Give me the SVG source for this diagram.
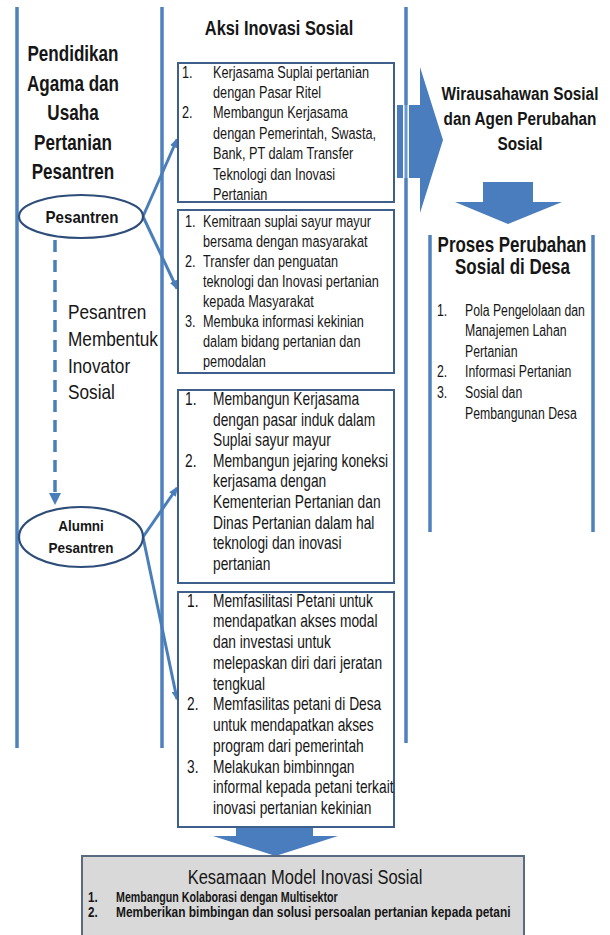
<svg xmlns="http://www.w3.org/2000/svg" width="610" height="935" viewBox="0 0 610 935">
<defs>
<style>
text{font-family:"Liberation Sans",Arial,sans-serif;fill:#161616}
.b1{font-size:16.5px}
.b2{font-size:17.5px}
.b3{font-size:16px}
.hd{font-weight:bold}
.mid{text-anchor:middle}
.frame{stroke:#4f81bd;stroke-width:3.5;fill:none}
.box{fill:#ffffff;stroke:#3e5f8c;stroke-width:2}
.ell{fill:#ffffff;stroke:#2e4d78;stroke-width:2.2}
.con{stroke:#4a7ebb;stroke-width:3;fill:none}
.blk{fill:#4a7dbd}
</style>
<marker id="ah" viewBox="0 0 10 8" refX="8" refY="4" markerWidth="10" markerHeight="8" markerUnits="userSpaceOnUse" orient="auto">
<path d="M0,0 L10,4 L0,8 z" fill="#4a7ebb"/>
</marker>
</defs>
<rect width="610" height="935" fill="#ffffff"/>

<g id="frame">
<line class="frame" x1="17" y1="7" x2="17" y2="748"/>
<line class="frame" x1="162" y1="7" x2="162" y2="748"/>
<line class="frame" x1="406" y1="7" x2="406" y2="743"/>
<line class="frame" x1="430" y1="235" x2="430" y2="532"/>
<line class="frame" x1="593" y1="235" x2="593" y2="532"/>
</g>

<g id="node-left-title">
<text class="hd mid" font-size="21.5" transform="matrix(0.795 0 0 1 73 61)">Pendidikan</text>
<text class="hd mid" font-size="21.5" transform="matrix(0.795 0 0 1 73 90.5)">Agama dan</text>
<text class="hd mid" font-size="21.5" transform="matrix(0.795 0 0 1 73 120)">Usaha</text>
<text class="hd mid" font-size="21.5" transform="matrix(0.795 0 0 1 73 149.5)">Pertanian</text>
<text class="hd mid" font-size="21.5" transform="matrix(0.795 0 0 1 73 179)">Pesantren</text>
</g>

<g id="node-aksi-title">
<text class="hd mid" font-size="21" transform="matrix(0.78 0 0 1 279 35)">Aksi Inovasi Sosial</text>
</g>

<g id="connectors">
<polygon class="blk" points="397,105 420,105 420,67 443,140 420,213 420,178 397,178"/>
<line x1="406" y1="105" x2="406" y2="178" stroke="#ffffff" stroke-width="6"/>
<line x1="406" y1="105" x2="406" y2="178" stroke="#6b98d0" stroke-width="3"/>
<polygon class="blk" points="483,182 533,182 533,202 562,202 508,224 455,202 483,202"/>
<polygon class="blk" points="236,827 313,827 313,836 338,836 275.5,856 213,836 236,836"/>
<line class="con" x1="143" y1="216.5" x2="177" y2="139.5" marker-end="url(#ah)"/>
<line class="con" x1="143" y1="216.5" x2="177" y2="288.5" marker-end="url(#ah)"/>
<line class="con" x1="143" y1="537" x2="177" y2="488" marker-end="url(#ah)"/>
<line class="con" x1="143" y1="537" x2="177" y2="699" marker-end="url(#ah)"/>
<line x1="55" y1="240" x2="55" y2="494" stroke="#4a7ebb" stroke-width="3.5" stroke-dasharray="12 8"/>
<polygon points="49,493 61,493 55,505" fill="#4a7ebb"/>
</g>

<g id="node-pesantren">
<ellipse class="ell" cx="81" cy="216.5" rx="62" ry="21.5"/>
<text class="hd mid" font-size="16.5" transform="matrix(0.915 0 0 1 82 222.5)">Pesantren</text>
</g>

<g id="node-membentuk">
<text font-size="21" transform="matrix(0.82 0 0 1 68 319)">Pesantren</text>
<text font-size="21" transform="matrix(0.82 0 0 1 68 346)">Membentuk</text>
<text font-size="21" transform="matrix(0.82 0 0 1 68 372.5)">Inovator</text>
<text font-size="21" transform="matrix(0.82 0 0 1 68 399)">Sosial</text>
</g>

<g id="node-alumni">
<ellipse class="ell" cx="81" cy="537" rx="62" ry="30"/>
<text class="hd mid" font-size="15" transform="matrix(0.9 0 0 1 81 530.5)">Alumni</text>
<text class="hd mid" font-size="15" transform="matrix(0.9 0 0 1 81 553)">Pesantren</text>
</g>

<g id="node-box1">
<rect class="box" x="178" y="63" width="216" height="139"/>
<text class="b1" transform="matrix(0.77 0 0 1 182 77.5)">1.</text>
<text class="b1" transform="matrix(0.77 0 0 1 213 77.5)">Kerjasama Suplai  pertanian</text>
<text class="b1" transform="matrix(0.77 0 0 1 213 97.9)">dengan Pasar Ritel</text>
<text class="b1" transform="matrix(0.77 0 0 1 182 118.3)">2.</text>
<text class="b1" transform="matrix(0.77 0 0 1 213 118.3)">Membangun Kerjasama</text>
<text class="b1" transform="matrix(0.77 0 0 1 213 138.7)">dengan Pemerintah,  Swasta,</text>
<text class="b1" transform="matrix(0.77 0 0 1 213 159.1)">Bank, PT dalam Transfer</text>
<text class="b1" transform="matrix(0.77 0 0 1 213 179.5)">Teknologi dan Inovasi</text>
<text class="b1" transform="matrix(0.77 0 0 1 213 199.9)">Pertanian</text>
</g>

<g id="node-box2">
<rect class="box" x="178" y="210" width="216" height="163"/>
<text class="b1" transform="matrix(0.77 0 0 1 185 226.5)">1.</text>
<text class="b1" transform="matrix(0.77 0 0 1 203 226.5)">Kemitraan suplai sayur mayur</text>
<text class="b1" transform="matrix(0.77 0 0 1 203 246.5)">bersama dengan masyarakat</text>
<text class="b1" transform="matrix(0.77 0 0 1 185 266.5)">2.</text>
<text class="b1" transform="matrix(0.77 0 0 1 203 266.5)">Transfer dan penguatan</text>
<text class="b1" transform="matrix(0.77 0 0 1 203 286.5)">teknologi dan Inovasi pertanian</text>
<text class="b1" transform="matrix(0.77 0 0 1 203 306.5)">kepada Masyarakat</text>
<text class="b1" transform="matrix(0.77 0 0 1 185 326.5)">3.</text>
<text class="b1" transform="matrix(0.77 0 0 1 203 326.5)">Membuka informasi kekinian</text>
<text class="b1" transform="matrix(0.77 0 0 1 203 346.5)">dalam bidang pertanian dan</text>
<text class="b1" transform="matrix(0.77 0 0 1 203 366.5)">pemodalan</text>
</g>

<g id="node-box3">
<rect class="box" x="178" y="390" width="216" height="193"/>
<text class="b2" transform="matrix(0.787 0 0 1 185 405)">1.</text>
<text class="b2" transform="matrix(0.787 0 0 1 213 405)">Membangun Kerjasama</text>
<text class="b2" transform="matrix(0.787 0 0 1 213 425.6)">dengan pasar induk dalam</text>
<text class="b2" transform="matrix(0.787 0 0 1 213 446.2)">Suplai sayur mayur</text>
<text class="b2" transform="matrix(0.787 0 0 1 185 466.8)">2.</text>
<text class="b2" transform="matrix(0.787 0 0 1 213 466.8)">Membangun jejaring koneksi</text>
<text class="b2" transform="matrix(0.787 0 0 1 213 487.4)">kerjasama dengan</text>
<text class="b2" transform="matrix(0.787 0 0 1 213 508)">Kementerian Pertanian dan</text>
<text class="b2" transform="matrix(0.787 0 0 1 213 528.6)">Dinas Pertanian  dalam hal</text>
<text class="b2" transform="matrix(0.787 0 0 1 213 549.2)">teknologi dan inovasi</text>
<text class="b2" transform="matrix(0.787 0 0 1 213 569.8)">pertanian</text>
</g>

<g id="node-box4">
<rect class="box" x="178" y="592" width="216" height="235"/>
<text class="b2" transform="matrix(0.787 0 0 1 187 606.5)">1.</text>
<text class="b2" transform="matrix(0.787 0 0 1 213 606.5)">Memfasilitasi Petani untuk</text>
<text class="b2" transform="matrix(0.787 0 0 1 213 627.25)">mendapatkan akses modal</text>
<text class="b2" transform="matrix(0.787 0 0 1 213 648)">dan investasi untuk</text>
<text class="b2" transform="matrix(0.787 0 0 1 213 668.75)">melepaskan diri dari jeratan</text>
<text class="b2" transform="matrix(0.787 0 0 1 213 689.5)">tengkual</text>
<text class="b2" transform="matrix(0.787 0 0 1 187 710.25)">2.</text>
<text class="b2" transform="matrix(0.787 0 0 1 213 710.25)">Memfasilitas petani di Desa</text>
<text class="b2" transform="matrix(0.787 0 0 1 213 731)">untuk mendapatkan akses</text>
<text class="b2" transform="matrix(0.787 0 0 1 213 751.75)">program dari pemerintah</text>
<text class="b2" transform="matrix(0.787 0 0 1 187 772.5)">3.</text>
<text class="b2" transform="matrix(0.787 0 0 1 213 772.5)">Melakukan bimbinngan</text>
<text class="b2" transform="matrix(0.787 0 0 1 213 793.25)">informal kepada petani terkait</text>
<text class="b2" transform="matrix(0.787 0 0 1 213 814)">inovasi pertanian kekinian</text>
</g>

<g id="node-wirausahawan">
<text class="hd mid" font-size="19" transform="matrix(0.808 0 0 1 520 100)">Wirausahawan Sosial</text>
<text class="hd mid" font-size="19" transform="matrix(0.808 0 0 1 520 125)">dan Agen Perubahan</text>
<text class="hd mid" font-size="19" transform="matrix(0.808 0 0 1 520 150)">Sosial</text>
</g>

<g id="node-proses">
<text class="hd mid" font-size="22" transform="matrix(0.771 0 0 1 512 252)">Proses Perubahan</text>
<text class="hd mid" font-size="22" transform="matrix(0.771 0 0 1 512.5 274)">Sosial di Desa</text>
<text class="b3" transform="matrix(0.766 0 0 1 437 315.5)">1.</text>
<text class="b3" transform="matrix(0.766 0 0 1 465 315.5)">Pola Pengelolaan dan</text>
<text class="b3" transform="matrix(0.766 0 0 1 465 336.1)">Manajemen Lahan</text>
<text class="b3" transform="matrix(0.766 0 0 1 465 356.7)">Pertanian</text>
<text class="b3" transform="matrix(0.766 0 0 1 437 377.3)">2.</text>
<text class="b3" transform="matrix(0.766 0 0 1 465 377.3)">Informasi Pertanian</text>
<text class="b3" transform="matrix(0.766 0 0 1 437 397.9)">3.</text>
<text class="b3" transform="matrix(0.766 0 0 1 465 397.9)">Sosial dan</text>
<text class="b3" transform="matrix(0.766 0 0 1 465 418.5)">Pembangunan Desa</text>
</g>

<g id="node-kesamaan">
<rect x="82" y="856" width="442" height="84" fill="#d9d9d9" stroke="#5a6a80" stroke-width="2"/>
<text class="mid" font-size="21" transform="matrix(0.786 0 0 1 305 884)">Kesamaan Model Inovasi Sosial</text>
<text class="hd" font-size="14.5" transform="matrix(0.8 0 0 1 88 902)">1.</text>
<text class="hd" font-size="14.5" transform="matrix(0.737 0 0 1 116 902)">Membangun Kolaborasi dengan Multisektor</text>
<text class="hd" font-size="14.5" transform="matrix(0.8 0 0 1 88 917)">2.</text>
<text class="hd" font-size="14.5" transform="matrix(0.822 0 0 1 116 917)">Memberikan bimbingan dan solusi persoalan pertanian kepada petani</text>
</g>
</svg>
